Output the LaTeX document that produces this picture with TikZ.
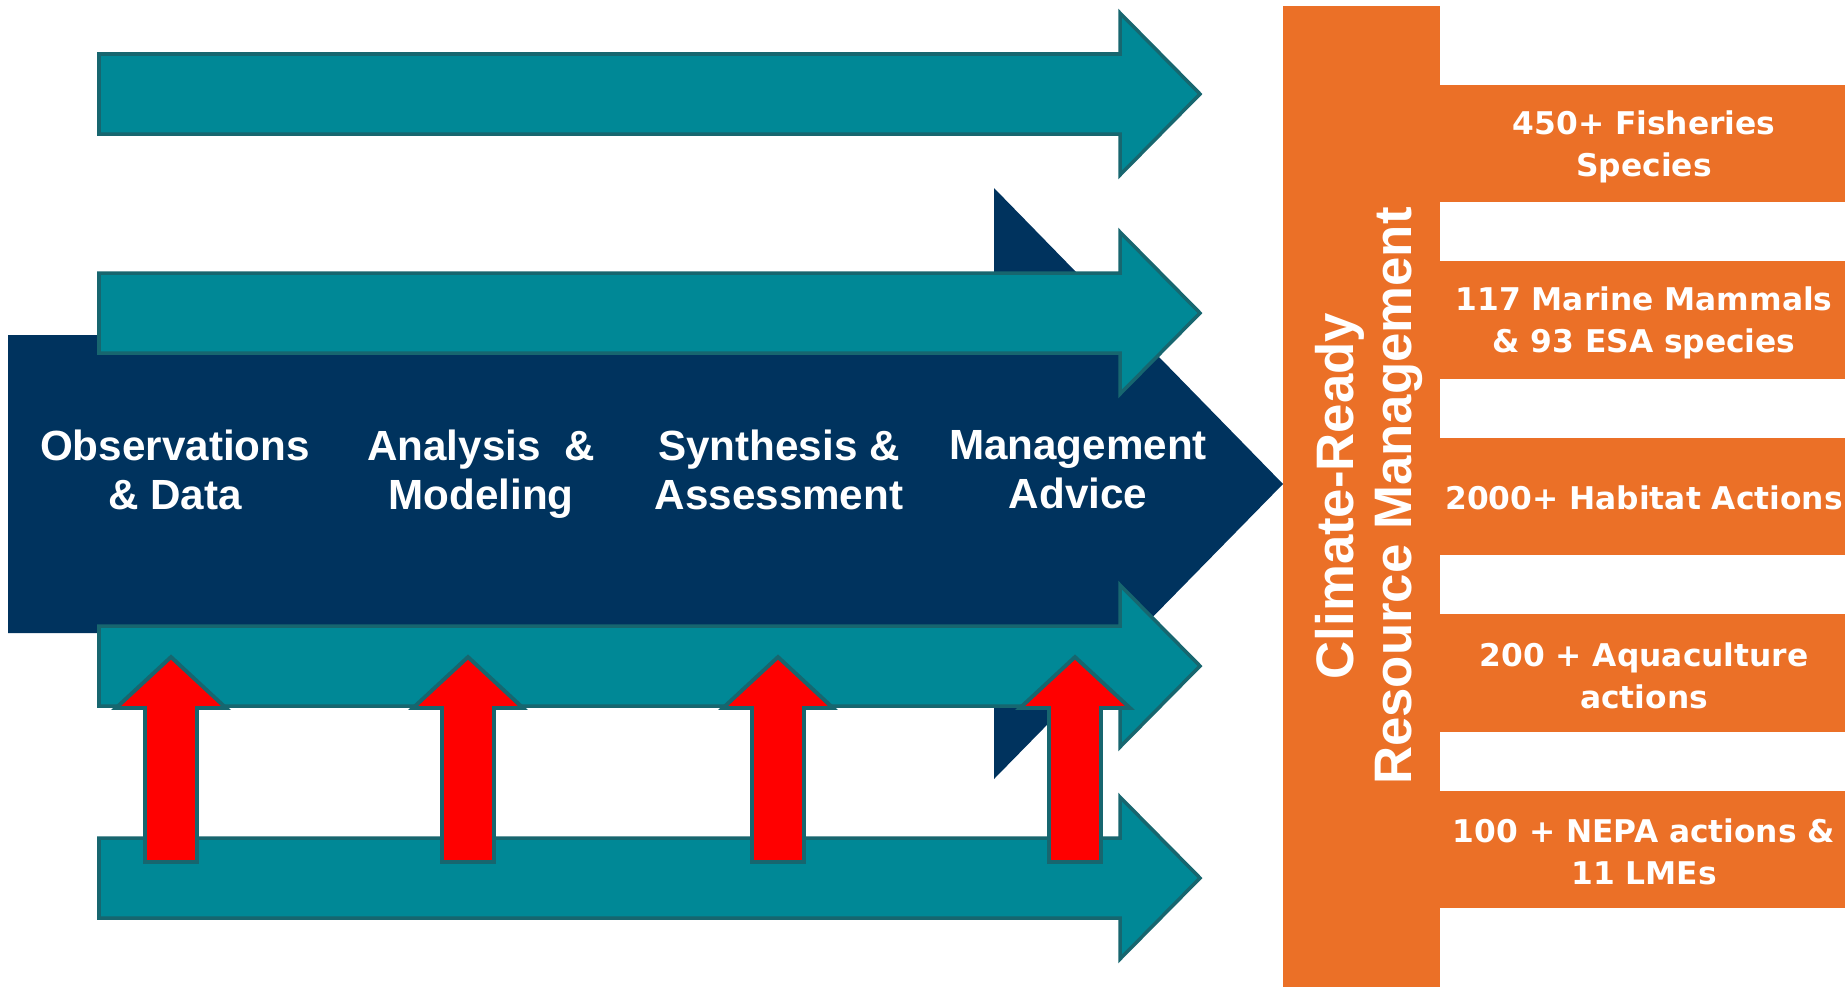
\documentclass[tikz,border=0pt]{standalone}
\usepackage{fontspec}
\setmainfont{Liberation Sans}
\newfontfamily\widefont{DejaVu Sans}
\definecolor{navy}{HTML}{00335E}
\definecolor{flowteal}{HTML}{008896}
\definecolor{flowline}{HTML}{17666F}
\definecolor{orng}{HTML}{EB7027}
\tikzset{
  stage/.style={text=white, align=center, text depth=0.25em, font=\bfseries\fontsize{12}{14}\selectfont},
  flow/.style={fill=flowteal, draw=flowline, line width=1pt},
  input/.style={fill=red, draw=flowline, line width=1.1pt},
  count/.style={text=white, align=center, font=\widefont\bfseries\fontsize{8.9}{12}\selectfont},
}
\begin{document}
\begin{tikzpicture}[x=0.01cm, y=-0.01cm]
\useasboundingbox (0,0) rectangle (1845,987);

% main process arrow
\fill[navy] (8,335) -- (994,335) -- (994,188) -- (1283,484) -- (994,779) -- (994,633) -- (8,633) -- cycle;

% parallel flows
\foreach \yc in {94,313,666,878}
  \path[flow] (99,\yc-40) -- (1120,\yc-40) -- (1120,\yc-81) -- (1200,\yc)
    -- (1120,\yc+81) -- (1120,\yc+40) -- (99,\yc+40) -- cycle;

\node[stage] (obs) at (175,474) {Observations\\\& Data};
\node[stage] (ana) at (481,474) {Analysis \ \&\\Modeling};
\node[stage] (syn) at (779,474) {Synthesis \&\\Assessment};
\node[stage] (adv) at (1078,474) {Management\\Advice};

% inputs from below
\foreach \xc in {171,468,778,1075}
  \path[input] (\xc-26,862) -- (\xc-26,708) -- (\xc-55,708) -- (\xc,657)
    -- (\xc+55,708) -- (\xc+26,708) -- (\xc+26,862) -- cycle;

% outcome column
\fill[orng] (1283,6) rectangle (1440,987);
\node[rotate=90, text=white, align=center, font=\bfseries\fontsize{15}{16.5}\selectfont] (crm) at (1369,496)
  {Climate-Ready\\Resource Management};

\fill[orng] (1440,85) rectangle (1845,202);
\fill[orng] (1440,261) rectangle (1845,379);
\fill[orng] (1440,438) rectangle (1845,555);
\fill[orng] (1440,614) rectangle (1845,732);
\fill[orng] (1440,791) rectangle (1845,908);

\node[count] (fish) at (1644,147) {450+ Fisheries\\Species};
\node[count] (mamm) at (1644,323) {117 Marine Mammals\\\& 93 ESA species};
\node[count] (hab) at (1644,498) {2000+ Habitat Actions};
\node[count] (aqua) at (1644,676) {200 + Aquaculture\\actions};
\node[count] (nepa) at (1644,852) {100 + NEPA actions \&\\11 LMEs};
\end{tikzpicture}
\end{document}
